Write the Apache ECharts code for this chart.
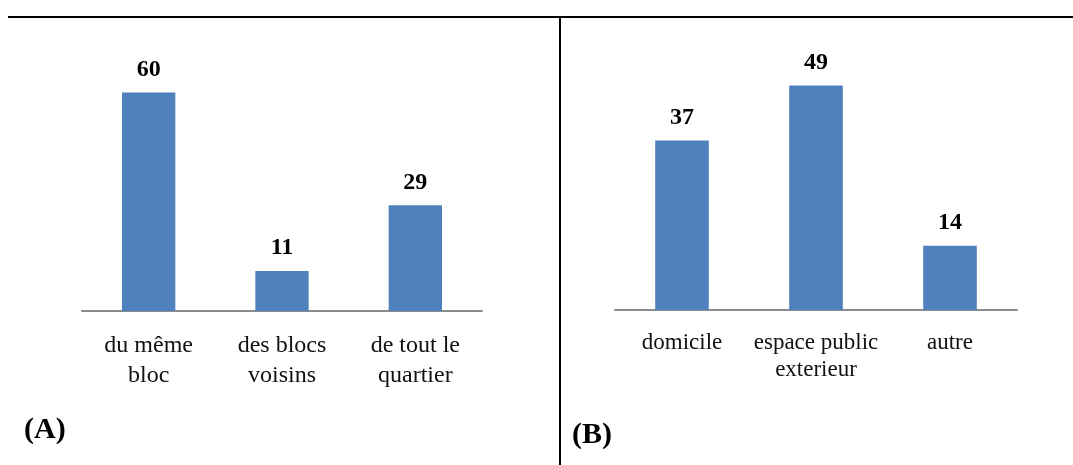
<!DOCTYPE html>
<html>
<head>
<meta charset="utf-8">
<script src="https://cdn.jsdelivr.net/npm/echarts@6/dist/echarts.min.js"></script>
<style>
  html, body { margin: 0; padding: 0; background: #fff; }
  #chart { width: 1073px; height: 465px; }
</style>
</head>
<body>
<div id="chart"></div>
<script>
// Panel A: origine des personnes rencontrées
const categoriesA = ['du même\nbloc', 'des blocs\nvoisins', 'de tout le\nquartier'];
const valuesA = [60, 11, 29];

// Panel B: lieu des rencontres
const categoriesB = ['domicile', 'espace public\nexterieur', 'autre'];
const valuesB = [37, 49, 14];

const panelLetters = ['(A)', '(B)'];

const serif = '"Liberation Serif", "Times New Roman", serif';
const barColor = '#4F81BD';

const chart = echarts.init(document.getElementById('chart'), null, { renderer: 'canvas' });

function xAxisFor(gridIndex, data, fontSize, lineHeight, margin) {
  return {
    type: 'category',
    gridIndex,
    data,
    axisTick: { show: false },
    axisLine: { lineStyle: { color: '#8c8c8c', width: 2 } },
    axisLabel: {
      interval: 0,
      margin,
      color: '#111',
      fontFamily: serif,
      fontSize,
      lineHeight
    }
  };
}

function yAxisFor(gridIndex, max) {
  return {
    type: 'value',
    gridIndex,
    min: 0,
    max,
    show: false,
    splitLine: { show: false }
  };
}

function barSeries(index, data) {
  return {
    type: 'bar',
    xAxisIndex: index,
    yAxisIndex: index,
    data,
    barWidth: '40%',
    itemStyle: { color: barColor },
    label: {
      show: true,
      position: 'top',
      distance: 11,
      color: '#000',
      fontFamily: serif,
      fontWeight: 'bold',
      fontSize: 24
    }
  };
}

chart.setOption({
  animation: false,
  backgroundColor: '#fff',
  grid: [
    { left: 82, right: 591, top: 56, bottom: 154 },
    { left: 615, right: 56, top: 35, bottom: 155 }
  ],
  xAxis: [
    xAxisFor(0, categoriesA, 24, 30, 20),
    xAxisFor(1, categoriesB, 23, 27, 19)
  ],
  yAxis: [
    yAxisFor(0, 70),
    yAxisFor(1, 60)
  ],
  series: [
    barSeries(0, valuesA),
    barSeries(1, valuesB)
  ],
  graphic: [
    {
      type: 'line',
      shape: { x1: 8, y1: 17, x2: 1073, y2: 17 },
      style: { stroke: '#000', lineWidth: 2 }
    },
    {
      type: 'line',
      shape: { x1: 560, y1: 17, x2: 560, y2: 465 },
      style: { stroke: '#000', lineWidth: 2 }
    },
    {
      type: 'text',
      left: 24,
      top: 415,
      style: {
        text: panelLetters[0],
        font: 'bold 30px ' + serif,
        fill: '#000'
      }
    },
    {
      type: 'text',
      left: 572,
      top: 420,
      style: {
        text: panelLetters[1],
        font: 'bold 30px ' + serif,
        fill: '#000'
      }
    }
  ]
});
</script>
</body>
</html>
